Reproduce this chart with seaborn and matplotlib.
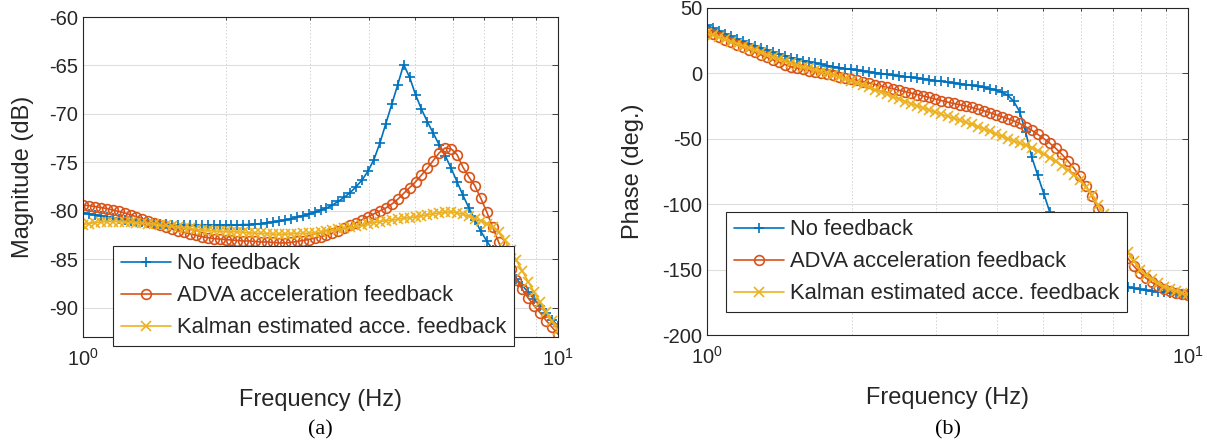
import matplotlib
matplotlib.use("Agg")
import matplotlib.pyplot as plt
import numpy as np
import seaborn as sns
from matplotlib.ticker import FixedLocator, LogLocator, NullFormatter

# bode sweep grid of the measurement: 80 points per decade, 1 Hz .. 10 Hz
freq_hz = np.logspace(0, 1, 81)

# magnitude (dB)
mag_none = [
    -80.2, -80.3, -80.4, -80.5, -80.6, -80.7, -80.8, -80.9, -81.0, -81.1,
    -81.15, -81.2, -81.25, -81.3, -81.35, -81.4, -81.45, -81.45, -81.5, -81.5,
    -81.5, -81.5, -81.5, -81.5, -81.5, -81.5, -81.45, -81.4, -81.4, -81.35,
    -81.3, -81.2, -81.15, -81.05, -80.95, -80.8, -80.65, -80.5, -80.35, -80.15,
    -79.95, -79.7, -79.4, -79.0, -78.6, -78.1, -77.5, -76.8, -75.9, -74.7,
    -73.0, -71.0, -69.0, -67.0, -64.9, -66.2, -68.0, -69.5, -70.8, -72.0,
    -73.2, -74.3, -75.6, -77.0, -78.4, -79.7, -80.9, -82.1, -83.1, -84.0,
    -84.8, -85.6, -86.3, -87.0, -87.7, -88.4, -89.1, -89.8, -90.5, -91.2,
    -91.9,
]
mag_adva = [
    -79.4, -79.45, -79.55, -79.65, -79.75, -79.9, -80.05, -80.2, -80.4, -80.6,
    -80.8, -81.0, -81.2, -81.45, -81.65, -81.85, -82.05, -82.2, -82.35, -82.5,
    -82.65, -82.75, -82.85, -82.9, -82.95, -83.0, -83.05, -83.1, -83.1, -83.15,
    -83.2, -83.2, -83.25, -83.3, -83.3, -83.25, -83.15, -83.05, -82.95, -82.8,
    -82.65, -82.5, -82.3, -82.05, -81.8, -81.5, -81.2, -80.9, -80.6, -80.3,
    -80.0, -79.7, -79.3, -78.8, -78.2, -77.6, -77.0, -76.3, -75.6, -74.8,
    -74.0, -73.5, -73.6, -74.2, -75.5, -76.5, -77.4, -78.7, -80.1, -81.7,
    -83.2, -84.7, -86.0, -87.1, -88.1, -89.0, -89.8, -90.5, -91.3, -92.0,
    -92.7,
]
mag_kalman = [
    -81.4, -81.3, -81.2, -81.15, -81.1, -81.1, -81.1, -81.15, -81.15, -81.2,
    -81.25, -81.3, -81.35, -81.45, -81.5, -81.6, -81.65, -81.75, -81.8, -81.9,
    -81.95, -82.0, -82.05, -82.1, -82.1, -82.15, -82.15, -82.2, -82.25, -82.3,
    -82.3, -82.35, -82.4, -82.4, -82.4, -82.35, -82.35, -82.3, -82.3, -82.25,
    -82.2, -82.1, -82.0, -81.9, -81.8, -81.7, -81.6, -81.45, -81.35, -81.2,
    -81.1, -81.0, -80.95, -80.85, -80.75, -80.7, -80.6, -80.5, -80.4, -80.3,
    -80.2, -80.15, -80.1, -80.2, -80.35, -80.55, -80.8, -81.0, -81.3, -81.7,
    -82.2, -83.0, -84.0, -85.1, -86.2, -87.3, -88.4, -89.4, -90.4, -91.4,
    -92.3,
]

# phase (deg.)
ph_none = [
    36.5, 34.2, 32.0, 29.9, 27.9, 26.0, 24.2, 22.4, 20.7, 19.0,
    17.4, 15.9, 14.5, 13.1, 11.8, 10.6, 9.5, 8.5, 7.5, 6.6,
    5.7, 4.9, 4.1, 3.4, 2.7, 2.0, 1.4, 0.8, 0.2, -0.4,
    -1.0, -1.6, -2.2, -2.8, -3.4, -4.0, -4.6, -5.2, -5.8, -6.4,
    -7.0, -7.6, -8.2, -8.8, -9.5, -10.2, -11.0, -11.9, -13.0, -14.5,
    -17.0, -21.5, -29.5, -45.0, -64.0, -78.0, -92.0, -106.0, -118.0, -128.0,
    -136.0, -142.0, -146.5, -150.2, -153.2, -155.7, -157.8, -159.6, -161.1, -162.4,
    -163.5, -164.4, -165.2, -165.9, -166.5, -167.0, -167.5, -167.9, -168.2, -168.5,
    -168.8,
]
ph_adva = [
    31.5, 29.4, 27.4, 25.4, 23.4, 21.4, 19.5, 17.6, 15.7, 13.8,
    11.9, 10.0, 8.2, 6.4, 4.7, 3.7, 2.8, 1.9, 1.0, 0.1,
    -0.8, -1.7, -2.7, -3.7, -4.7, -5.7, -6.7, -7.7, -8.8, -9.9,
    -11.0, -12.1, -13.2, -14.3, -15.4, -16.5, -17.6, -18.7, -19.9, -21.1,
    -22.2, -23.2, -24.2, -25.2, -26.3, -27.5, -28.8, -30.2, -31.8, -33.3,
    -34.8, -36.5, -38.5, -41.0, -43.7, -46.8, -50.0, -53.5, -57.5, -62.0,
    -67.0, -72.5, -79.0, -86.0, -94.0, -104.0, -113.0, -121.0, -128.0, -135.0,
    -141.5, -147.5, -152.5, -156.5, -159.8, -162.5, -164.8, -166.5, -168.0, -169.0,
    -169.8,
]
ph_kalman = [
    30.5, 28.9, 27.2, 25.6, 24.0, 22.3, 20.7, 19.0, 17.4, 15.7,
    14.0, 12.4, 10.7, 9.0, 7.3, 6.0, 4.7, 3.5, 2.2, 1.0,
    -0.3, -1.6, -3.0, -4.5, -6.0, -7.6, -9.3, -11.0, -12.8, -14.6,
    -16.4, -18.2, -20.0, -21.8, -23.5, -25.2, -26.8, -28.4, -30.0, -31.5,
    -33.0, -34.5, -36.0, -37.6, -39.3, -40.9, -42.5, -44.5, -46.5, -48.3,
    -50.0, -51.8, -53.5, -55.2, -57.0, -59.4, -62.0, -64.7, -67.5, -70.7,
    -74.0, -77.8, -82.0, -87.2, -93.0, -100.5, -108.0, -115.5, -123.0, -130.0,
    -137.0, -143.7, -150.0, -154.0, -157.5, -160.5, -163.0, -165.0, -166.5, -168.0,
    -169.0,
]

labels = ["No feedback", "ADVA acceleration feedback", "Kalman estimated acce. feedback"]
colors = ["#0072BD", "#D95319", "#EDB120"]
markers = ["+", "o", "x"]
mag_ticks = [-90, -85, -80, -75, -70, -65, -60]
phase_ticks = [-200, -150, -100, -50, 0, 50]

sns.set_theme(style="whitegrid")
plt.rcParams["font.family"] = ["Liberation Sans", "DejaVu Sans"]
plt.rcParams["mathtext.fontset"] = "custom"
plt.rcParams["mathtext.rm"] = "Liberation Sans"
plt.rcParams["mathtext.it"] = "Liberation Sans:italic"
plt.rcParams["axes.unicode_minus"] = False

AX_COL = "#262626"


def draw_panel(ax, series, ylabel, ylim, yticks, legend_anchor, ylabel_x):
    for vals, lab, col, mk in zip(series, labels, colors, markers):
        sns.lineplot(
            x=freq_hz, y=vals, ax=ax, color=col, marker=mk,
            markersize=7 if mk == "o" else 7.5,
            markeredgecolor=col, markerfacecolor="none", markeredgewidth=1.2,
            linewidth=1.2, label=lab,
        )
    ax.set_xscale("log")
    ax.set_xlim(1, 10)
    ax.set_ylim(*ylim)
    ax.yaxis.set_major_locator(FixedLocator(yticks))
    ax.xaxis.set_major_locator(LogLocator(base=10))
    ax.xaxis.set_minor_locator(LogLocator(base=10, subs=range(2, 10)))
    ax.xaxis.set_minor_formatter(NullFormatter())

    ax.grid(False)
    ax.yaxis.grid(True, color="#dedede", lw=0.8, ls="-")
    ax.xaxis.grid(True, which="major", color="#dedede", lw=0.8, ls="-")
    ax.xaxis.grid(True, which="minor", color="#d2d2d2", lw=0.7, ls=(0, (1.5, 2)))
    ax.set_axisbelow(True)

    for sp in ax.spines.values():
        sp.set_visible(True)
        sp.set_color(AX_COL)
        sp.set_linewidth(0.8)
    ax.tick_params(which="both", direction="in", colors=AX_COL, labelsize=14.5,
                   top=True, right=True, width=0.6)
    ax.tick_params(which="major", length=4)
    ax.tick_params(which="minor", length=2)
    ax.tick_params(axis="x", which="major", pad=8)

    ax.set_xlabel("Frequency (Hz)", fontsize=17, color=AX_COL, labelpad=14)
    ax.set_ylabel(ylabel, fontsize=17, color=AX_COL)
    ax.yaxis.set_label_coords(ylabel_x, 0.5)

    leg = ax.legend(
        loc="lower left", bbox_to_anchor=legend_anchor, fontsize=15.8,
        frameon=True, fancybox=False, edgecolor=AX_COL, framealpha=1,
        borderpad=0.35, labelspacing=0.5, handlelength=2.3,
        handletextpad=0.25, borderaxespad=0,
    )
    leg.get_frame().set_linewidth(0.8)


fig = plt.figure(figsize=(12.07, 4.44), dpi=100)
W, H = 1207, 444
ax_mag = fig.add_axes([83 / W, 1 - 337 / H, 475 / W, 320 / H])
ax_ph = fig.add_axes([707 / W, 1 - 335 / H, 481 / W, 327.5 / H])

draw_panel(ax_mag, [mag_none, mag_adva, mag_kalman], "Magnitude (dB)",
           (-93, -60), mag_ticks, (0.063, -0.028), -0.104)
draw_panel(ax_ph, [ph_none, ph_adva, ph_kalman], "Phase (deg.)",
           (-200, 50), phase_ticks, (0.0395, 0.070), -0.132)

fig.text((83 + 475 / 2) / W, 1 - 430 / H, "(a)", ha="center", va="center",
         family="Liberation Serif", fontsize=16, color="black")
fig.text((707 + 481 / 2) / W, 1 - 430 / H, "(b)", ha="center", va="center",
         family="Liberation Serif", fontsize=16, color="black")

fig.savefig("out.png", dpi=100)
